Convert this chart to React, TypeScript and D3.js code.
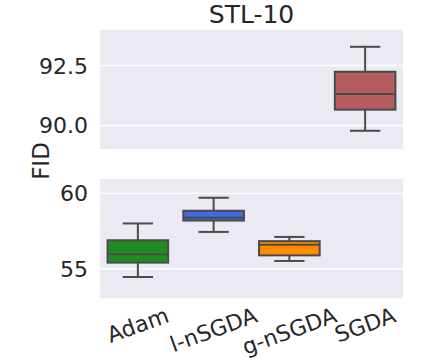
import React, { useEffect, useRef } from 'react';
import * as d3 from 'd3';

const categories = ['Adam', 'l-nSGDA', 'g-nSGDA', 'SGDA'];
const colors = ['#228b22', '#4169e1', '#ff8c00', '#b55d60'];
const whiskerLow = [54.47, 57.45, 55.53, 89.78];
const q1 = [55.42, 58.2, 55.9, 90.66];
const median = [55.97, 58.38, 56.6, 91.31];
const q3 = [56.9, 58.85, 56.84, 92.24];
const whiskerHigh = [58.01, 59.71, 57.12, 93.28];
const topTicks = [90, 92.5];
const bottomTicks = [55, 60];

function App() {
  const chartRef = useRef<SVGSVGElement>(null);

  useEffect(() => {
    const svg = d3.select(chartRef.current);
    svg.selectAll('*').remove();

    const left = 100, right = 403;
    const font = 'DejaVu Sans, sans-serif';
    const textColor = '#262626';
    const lineColor = '#4b4b4b';

    const x = d3.scaleBand().domain(categories).range([left, right]).paddingInner(0).paddingOuter(0);

    const yTop = d3.scaleLinear().domain([89.02, 93.98]).range([149, 30]);
    const yBottom = d3.scaleLinear().domain([53.08, 60.95]).range([298, 179]);

    const panels = [
      { y: yTop, ticks: topTicks, fmt: d3.format('.1f') },
      { y: yBottom, ticks: bottomTicks, fmt: d3.format('d') },
    ];

    panels.forEach(p => {
      const [y0, y1] = p.y.range();
      svg.append('rect')
        .attr('x', left).attr('y', y1)
        .attr('width', right - left).attr('height', y0 - y1)
        .attr('fill', '#eaeaf2');

      svg.selectAll(null)
        .data(p.ticks)
        .enter().append('line')
        .attr('x1', left).attr('x2', right)
        .attr('y1', d => p.y(d)).attr('y2', d => p.y(d))
        .attr('stroke', '#ffffff')
        .attr('stroke-width', 1.3);

      svg.selectAll(null)
        .data(p.ticks)
        .enter().append('text')
        .attr('x', 88)
        .attr('y', d => p.y(d) + 8)
        .attr('text-anchor', 'end')
        .attr('font-family', font)
        .attr('font-size', 22)
        .attr('fill', textColor)
        .text(d => p.fmt(d));
    });

    const boxW = x.bandwidth() * 0.8;
    categories.forEach((c, i) => {
      const y = median[i] > 80 ? yTop : yBottom;
      const cx = x(c)! + x.bandwidth() / 2;
      const g = svg.append('g')
        .attr('stroke', lineColor)
        .attr('stroke-width', 2);

      g.append('line')
        .attr('x1', cx).attr('x2', cx)
        .attr('y1', y(whiskerHigh[i])).attr('y2', y(q3[i]));
      g.append('line')
        .attr('x1', cx).attr('x2', cx)
        .attr('y1', y(q1[i])).attr('y2', y(whiskerLow[i]));
      [whiskerHigh[i], whiskerLow[i]].forEach(v => {
        g.append('line')
          .attr('x1', cx - boxW / 4).attr('x2', cx + boxW / 4)
          .attr('y1', y(v)).attr('y2', y(v));
      });
      g.append('rect')
        .attr('x', cx - boxW / 2)
        .attr('y', y(q3[i]))
        .attr('width', boxW)
        .attr('height', y(q1[i]) - y(q3[i]))
        .attr('fill', colors[i]);
      g.append('line')
        .attr('x1', cx - boxW / 2).attr('x2', cx + boxW / 2)
        .attr('y1', y(median[i])).attr('y2', y(median[i]));
    });

    // rotated x labels, bbox centered on tick, top aligned below axis
    const angle = 20 * Math.PI / 180;
    const fs = 22;
    categories.forEach(c => {
      const cx = x(c)! + x.bandwidth() / 2;
      const t = svg.append('text')
        .attr('font-family', font)
        .attr('font-size', fs)
        .attr('fill', textColor)
        .attr('text-anchor', 'middle')
        .attr('dominant-baseline', 'central')
        .text(c);
      const w = (t.node() as SVGTextElement).getComputedTextLength();
      const h = fs * 1.0;
      const bh = w * Math.sin(angle) + h * Math.cos(angle);
      const cy = 304 + bh / 2;
      t.attr('transform', `translate(${cx},${cy}) rotate(-20)`);
    });

    svg.append('text')
      .attr('x', (left + right) / 2)
      .attr('y', 23)
      .attr('text-anchor', 'middle')
      .attr('font-family', font)
      .attr('font-size', 25)
      .attr('fill', textColor)
      .text('STL-10');

    svg.append('text')
      .attr('transform', 'translate(49,161) rotate(-90)')
      .attr('text-anchor', 'middle')
      .attr('font-family', font)
      .attr('font-size', 23)
      .attr('fill', textColor)
      .text('FID');
  }, []);

  return (
    <svg ref={chartRef} width={432} height={360}
      style={{ position: 'absolute', left: 0, top: 0, background: '#ffffff' }} />
  );
}

export default App;
